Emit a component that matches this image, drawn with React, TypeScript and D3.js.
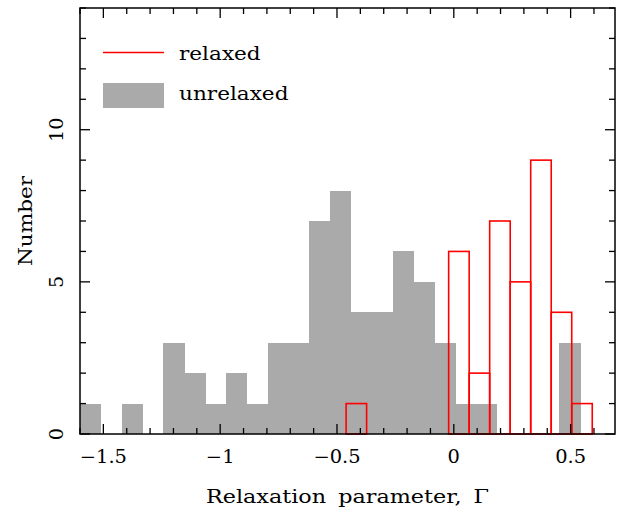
import React from "react";
import * as d3 from "d3";

const grayStart = -1.6;
const grayWidth = 0.0892;
const grayCounts = [1, 0, 1, 0, 3, 2, 1, 2, 1, 3, 3, 7, 8, 4, 4, 6, 5, 3, 1, 1, 0, 0, 0, 3];
const redStart = -0.461;
const redWidth = 0.0878;
const redCounts = [1, 0, 0, 0, 0, 6, 2, 7, 5, 9, 4, 1];
const xMajorTicks = [-1.5, -1, -0.5, 0, 0.5];
const xTickLabels = ["\u22121.5", "\u22121", "\u22120.5", "0", "0.5"];
const yMajorTicks = [0, 5, 10];
const yTickLabels = ["0", "5", "10"];
const legendLabels = ["relaxed", "unrelaxed"];

const W = 621, H = 512;
const L = 80, R = 615, T = 8, B = 434;
const FONT = "DejaVu Serif";
const SX = 1.2;

export default function App() {
  const x = d3.scaleLinear().domain([-1.6, 0.69]).range([L, R]);
  const y = d3.scaleLinear().domain([0, 14]).range([B, T]);
  const xMinor = d3.range(-16, 7).map((v) => v / 10);
  const yMinor = d3.range(0, 15);
  const majLen = 10, minLen = 6;
  const txt = { fontFamily: FONT, fontSize: 18, fill: "#000" } as const;
  return (
    <svg width={W} height={H} style={{ position: "absolute", left: 0, top: 0, background: "#fff" }}>
      <rect x={0} y={0} width={W} height={H} fill="#fff" />
      <g shapeRendering="crispEdges">
        {grayCounts.map((c, i) =>
          c > 0 ? (
            <rect key={"g" + i}
              x={x(grayStart + i * grayWidth)} y={y(c)}
              width={x(grayStart + (i + 1) * grayWidth) - x(grayStart + i * grayWidth) + 0.5}
              height={y(0) - y(c)} fill="#aaaaaa" />
          ) : null
        )}
      </g>
      {redCounts.map((c, i) =>
        c > 0 ? (
          <rect key={"r" + i}
            x={x(redStart + i * redWidth)} y={y(c)}
            width={x(redStart + (i + 1) * redWidth) - x(redStart + i * redWidth)}
            height={y(0) - y(c)} fill="none" stroke="#ff0000" strokeWidth={1.6} />
        ) : null
      )}
      {xMinor.map((v, i) => {
        const major = xMajorTicks.some((m) => Math.abs(m - v) < 1e-6);
        const len = major ? majLen : minLen;
        const px = x(v);
        return (
          <g key={"xt" + i} stroke="#000" strokeWidth={1.3}>
            <line x1={px} x2={px} y1={B} y2={B - len} />
            <line x1={px} x2={px} y1={T} y2={T + len} />
          </g>
        );
      })}
      {yMinor.map((v, i) => {
        const major = v % 5 === 0;
        const len = major ? majLen : minLen;
        const py = y(v);
        return (
          <g key={"yt" + i} stroke="#000" strokeWidth={1.3}>
            <line x1={L} x2={L + len} y1={py} y2={py} />
            <line x1={R} x2={R - len} y1={py} y2={py} />
          </g>
        );
      })}
      <rect x={L} y={T} width={R - L} height={B - T} fill="none" stroke="#000" strokeWidth={1.5} />
      {xMajorTicks.map((v, i) => (
        <text key={"xl" + i} transform={`translate(${x(v)},463) scale(1.08,1)`} textAnchor="middle" {...txt}>
          {xTickLabels[i]}
        </text>
      ))}
      {yMajorTicks.map((v, i) => (
        <text key={"yl" + i} transform={`translate(63,${y(v)}) rotate(-90) scale(1.08,1)`} textAnchor="middle" {...txt}>
          {yTickLabels[i]}
        </text>
      ))}
      <text transform={`translate(${(L + R) / 2},503) scale(1.24,1)`} textAnchor="middle" wordSpacing={4} {...txt}>
        Relaxation parameter, Γ
      </text>
      <text transform={`translate(32,${(T + B) / 2}) rotate(-90) scale(${SX},1)`} textAnchor="middle" {...txt}>
        Number
      </text>
      <line x1={103} x2={164} y1={52.5} y2={52.5} stroke="#ff0000" strokeWidth={1.6} />
      <text transform={`translate(179,59.5) scale(${SX},1)`} {...txt}>{legendLabels[0]}</text>
      <rect x={103} y={83} width={61} height={25} fill="#aaaaaa" />
      <text transform={`translate(179,99.5) scale(${SX},1)`} {...txt}>{legendLabels[1]}</text>
    </svg>
  );
}
